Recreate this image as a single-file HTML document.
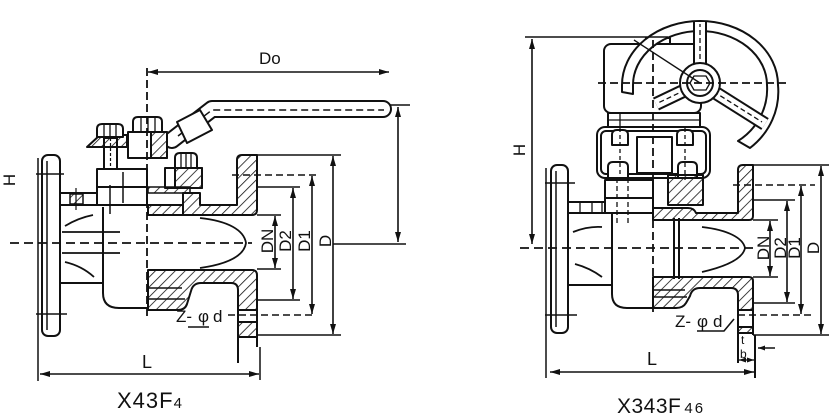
<!DOCTYPE html>
<html><head><meta charset="utf-8"><style>
html,body{margin:0;padding:0;background:#fff;}
svg{display:block;}
text{font-family:"Liberation Sans",sans-serif;fill:#111;}
</style></head><body>
<svg width="832" height="415" viewBox="0 0 832 415" xmlns="http://www.w3.org/2000/svg">
<defs>
<pattern id="h" width="7" height="7" patternUnits="userSpaceOnUse" patternTransform="rotate(45)"><line x1="0" y1="0" x2="0" y2="7" stroke="#111" stroke-width="1.6"/></pattern>
<marker id="a" viewBox="0 0 10 6" refX="10" refY="3" markerWidth="10" markerHeight="6" markerUnits="userSpaceOnUse" orient="auto-start-reverse"><path d="M0,0L10,3L0,6z" fill="#111"/></marker>
<marker id="s" viewBox="0 0 7 5" refX="7" refY="2.5" markerWidth="7" markerHeight="5" markerUnits="userSpaceOnUse" orient="auto-start-reverse"><path d="M0,0L7,2.5L0,5z" fill="#111"/></marker>
</defs>

<!-- ================= LEFT VALVE X43F4 ================= -->
<g stroke="#111" stroke-width="2" fill="none" stroke-linejoin="round">
  <rect x="42" y="155" width="18" height="181" rx="6" fill="#fff"/>
  <line x1="47" y1="161" x2="47" y2="330" stroke-width="1.5"/>
  <line x1="36" y1="174" x2="64" y2="174" stroke-width="1.5"/>
  <line x1="36" y1="314" x2="67" y2="314" stroke-width="1.5"/>
  <line x1="38" y1="158" x2="38" y2="381" stroke-width="1.5"/>

  <path d="M60,193H97M60,205H97"/>
  <rect x="70" y="194" width="13" height="10" fill="url(#h)" stroke-width="1.5"/>
  <line x1="76" y1="188" x2="76" y2="210" stroke-width="1.2"/>

  <path d="M103,207V293Q103,308 119,308H148"/>
  <path d="M60,283H103"/>
  <path d="M65,226Q78,218 93,215" stroke-width="1.8"/>
  <path d="M65,262Q82,266 94,277" stroke-width="1.8"/>
  <path d="M62,232H120M62,253H120" stroke-width="1.8"/>

  <path d="M172,140L212,109H383" stroke-width="18" stroke-linecap="round"/>
  <path d="M172,140L212,109H383" stroke="#fff" stroke-width="14" stroke-linecap="round"/>
  <path d="M178,136L212,110H384" stroke-dasharray="7 4" stroke-width="1.5"/>
  <path d="M177,122L200,110L212,130L187,143Z" fill="#fff"/>

  <rect x="97" y="169" width="50" height="18" fill="#fff"/>
  <rect x="97" y="187" width="50" height="18" fill="#fff"/>
  <path d="M110,185V214M123,172V203" stroke-width="1.5"/>

  <rect x="104" y="138" width="13" height="31" fill="#fff"/>
  <line x1="110.5" y1="138" x2="110.5" y2="169" stroke-dasharray="3 2" stroke-width="1.2"/>
  <path d="M87,147L100,135H127V147Z" fill="url(#h)"/>
  <path d="M97,137V129Q97,124 102,124H118Q123,124 123,129V137Z" fill="#fff"/>
  <path d="M104,125V137M110,125V137M116,125V137" stroke-width="1.3"/>

  <rect x="128" y="132" width="39" height="26" fill="#fff"/>
  <rect x="151" y="132" width="16" height="26" fill="url(#h)"/>
  <path d="M133,132V122Q133,117 138,117H157Q162,117 162,122V132Z" fill="#fff"/>
  <path d="M141,118V132M148,118V132M155,118V132" stroke-width="1.3"/>

  <rect x="165" y="168" width="37" height="20" fill="#fff"/>
  <rect x="175" y="168" width="27" height="20" fill="url(#h)"/>
  <path d="M175,168V158Q175,153 180,153H192Q197,153 197,158V168Z" fill="#fff"/>
  <path d="M181,154V168M186,154V168M191,154V168" stroke-width="1.3"/>
  <rect x="148" y="187" width="42" height="6" fill="url(#h)" stroke-width="1.5"/>

  <path d="M148,205H183V193H200V205H237V160Q237,155 242,155H257V210Q257,215 252,215H148Z" fill="url(#h)"/>
  <line x1="183" y1="193" x2="183" y2="215"/>

  <path d="M148,270H252Q257,270 257,275V310H238V290Q238,283 231,283H201Q193,283 191,291L187,304Q185,310 178,310H148Z" fill="url(#h)"/>
  <path d="M148,288H182M148,299H185" stroke-width="1.5"/>
  <rect x="238" y="322" width="19" height="15" fill="url(#h)"/>
  <path d="M238,310V363M257,310V347"/>
  <path d="M260,347V380" stroke-width="1.5"/>

  <path d="M200,218C228,221 244,230 246,243C244,256 228,264 200,268" stroke-width="1.8"/>

  <path d="M10,243H252" stroke-dasharray="9 5" stroke-width="1.8"/>
  <path d="M147,68V318" stroke-dasharray="8 4" stroke-width="1.8"/>
</g>

<g stroke="#111" stroke-width="1.6" fill="none">
  <path d="M148,72H389" marker-start="url(#a)" marker-end="url(#a)"/>
  <path d="M390,105H410"/>
  <path d="M398,107V242" marker-start="url(#a)" marker-end="url(#a)"/>
  <path d="M333,244H406"/>
  <path d="M257,155H341"/>
  <path d="M232,175H320" stroke-dasharray="7 4"/>
  <path d="M257,187H300"/>
  <path d="M257,215H281"/>
  <path d="M257,269H281"/>
  <path d="M257,300H300"/>
  <path d="M228,315H316" stroke-dasharray="7 4"/>
  <path d="M257,335H341"/>
  <path d="M275,216V268" marker-start="url(#a)" marker-end="url(#a)"/>
  <path d="M293,188V299" marker-start="url(#a)" marker-end="url(#a)"/>
  <path d="M312,176V314" marker-start="url(#a)" marker-end="url(#a)"/>
  <path d="M333,156V334" marker-start="url(#a)" marker-end="url(#a)"/>
  <path d="M40,374H259" marker-start="url(#a)" marker-end="url(#a)"/>
  <path d="M188,327H209"/>
</g>
<g font-size="17">
  <text x="259" y="64">Do</text>
  <text x="15" y="180" text-anchor="middle" transform="rotate(-90 15 180)">H</text>
  <text x="273" y="241" text-anchor="middle" transform="rotate(-90 273 241)">DN</text>
  <text x="291" y="241" text-anchor="middle" transform="rotate(-90 291 241)">D2</text>
  <text x="310" y="241" text-anchor="middle" transform="rotate(-90 310 241)">D1</text>
  <text x="331" y="241" text-anchor="middle" transform="rotate(-90 331 241)">D</text>
  <text y="322"><tspan x="176">Z-</tspan><tspan x="198">φ</tspan><tspan x="213">d</tspan></text>
  <text x="142" y="368" font-size="18">L</text>
</g>
<text x="117" y="408" font-size="22" letter-spacing="1">X43F<tspan font-size="15" letter-spacing="0">4</tspan></text>

<!-- ================= RIGHT VALVE X343F46 ================= -->
<g stroke="#111" stroke-width="2" fill="none" stroke-linejoin="round">
  <rect x="551" y="165" width="17" height="168" rx="6" fill="#fff"/>
  <line x1="556" y1="171" x2="556" y2="327" stroke-width="1.5"/>
  <line x1="545" y1="183" x2="575" y2="183" stroke-width="1.5"/>
  <line x1="545" y1="315" x2="577" y2="315" stroke-width="1.5"/>
  <line x1="546" y1="168" x2="546" y2="378" stroke-width="1.5"/>

  <path d="M568,202H607M568,213H607"/>
  <path d="M580,202V213M592,202V213M602,202V213" stroke-width="1.3"/>
  <path d="M612,214V294Q612,308 627,308H653"/>
  <path d="M568,285H612"/>
  <path d="M573,232Q588,226 602,227" stroke-width="1.8"/>
  <path d="M575,264Q590,268 602,277" stroke-width="1.8"/>

  <rect x="646" y="38" width="24" height="7" fill="#fff"/>
  <rect x="604" y="44" width="97" height="69" rx="7" fill="#fff"/>
  <rect x="608" y="113" width="92" height="14" fill="#fff"/>
  <path d="M608,120H700M620,113V127" stroke-width="1.3"/>

  <rect x="597" y="127" width="113" height="51" rx="8" fill="#fff"/>
  <rect x="601" y="131" width="105" height="43" rx="5"/>
  <rect x="637" y="137" width="35" height="36" fill="#fff"/>
  <path d="M612,145V135Q612,130 617,130H623Q628,130 628,135V145Z" fill="#fff"/>
  <path d="M677,145V135Q677,130 682,130H688Q693,130 693,135V145Z" fill="#fff"/>
  <path d="M608,178V167Q608,162 613,162H623Q628,162 628,167V178Z" fill="#fff"/>
  <path d="M678,178V167Q678,162 683,162H692Q697,162 697,167V178Z" fill="#fff"/>
  <path d="M620,128V180M685,128V180" stroke-dasharray="4 3" stroke-width="1.3"/>

  <rect x="605" y="180" width="48" height="18" fill="#fff"/>
  <rect x="605" y="198" width="48" height="15" fill="#fff"/>
  <path d="M617,178V224M628,178V224" stroke-dasharray="5 3" stroke-width="1.3"/>

  <rect x="668" y="175" width="35" height="30" fill="url(#h)"/>
  <path d="M653,208H688Q694,208 696,213H738V170Q738,165 743,165H753V216Q753,220 749,220H653Z" fill="url(#h)"/>
  <path d="M653,277H749Q753,277 753,281V310H738V295Q738,288 731,288H700Q692,288 690,296L686,303Q683,308 676,308H653Z" fill="url(#h)"/>
  <path d="M653,290H685M653,297H687" stroke-width="1.5"/>
  <rect x="738" y="327" width="15" height="6" fill="url(#h)"/>
  <path d="M738,310V363M753,310V335M755,335V378"/>

  <path d="M674,218V279M679,218V279"/>
  <path d="M702,227C728,230 743,238 745,248C743,258 728,266 702,272" stroke-width="1.8"/>

  <path d="M622,92L622,85A78,64 0 0 1 778,85A75,72 0 0 1 750,148L738,141A64,62 0 0 0 767,85A67,54 0 0 0 633,85L633,94Z" fill="#fff"/>
  <path d="M700,83V22" stroke-width="14"/>
  <path d="M700,83V22" stroke="#fff" stroke-width="10"/>
  <path d="M700,83L656,104" stroke-width="14"/>
  <path d="M700,83L656,104" stroke="#fff" stroke-width="10"/>
  <path d="M700,83L765,124" stroke-width="14"/>
  <path d="M700,83L765,124" stroke="#fff" stroke-width="10"/>
  <path d="M700,83V24M700,83L658,103M700,83L762,122" stroke-dasharray="5 3" stroke-width="1.3"/>
  <circle cx="700" cy="83" r="20" fill="#fff"/>
  <circle cx="700" cy="83" r="13"/>
  <path d="M694,76H706L710,83L706,90H694L690,83Z" stroke-width="1.3"/>
  <path d="M598,83H787" stroke-dasharray="8 4" stroke-width="1.8"/>
  <path d="M634,40L700,83" stroke-width="1.4"/>

  <path d="M520,248H757" stroke-dasharray="9 5" stroke-width="1.8"/>
  <path d="M653,40V312" stroke-dasharray="8 4" stroke-width="1.8"/>
</g>

<g stroke="#111" stroke-width="1.6" fill="none">
  <path d="M525,37H668"/>
  <path d="M532,39V244" marker-start="url(#a)" marker-end="url(#a)"/>
  <path d="M753,165H829"/>
  <path d="M733,185H815" stroke-dasharray="7 4"/>
  <path d="M753,200H795"/>
  <path d="M753,220H778"/>
  <path d="M753,277H778"/>
  <path d="M753,303H795"/>
  <path d="M738,315H815" stroke-dasharray="7 4"/>
  <path d="M753,335H829"/>
  <path d="M770,221V276" marker-start="url(#a)" marker-end="url(#a)"/>
  <path d="M787,201V302" marker-start="url(#a)" marker-end="url(#a)"/>
  <path d="M801,186V314" marker-start="url(#a)" marker-end="url(#a)"/>
  <path d="M821,166V334" marker-start="url(#a)" marker-end="url(#a)"/>
  <path d="M550,372H754" marker-start="url(#a)" marker-end="url(#a)"/>
  <path d="M697,331H724L734,319"/>
  <path d="M775,348H758" marker-end="url(#s)"/>
  <path d="M739,360H754" marker-start="url(#s)" marker-end="url(#s)" stroke-width="1.3"/>
</g>
<g font-size="17">
  <text x="525" y="150" text-anchor="middle" transform="rotate(-90 525 150)">H</text>
  <text x="769" y="248" text-anchor="middle" transform="rotate(-90 769 248)">DN</text>
  <text x="786" y="248" text-anchor="middle" transform="rotate(-90 786 248)">D2</text>
  <text x="800" y="248" text-anchor="middle" transform="rotate(-90 800 248)">D1</text>
  <text x="819" y="248" text-anchor="middle" transform="rotate(-90 819 248)">D</text>
  <text y="327"><tspan x="675">Z-</tspan><tspan x="697">φ</tspan><tspan x="713">d</tspan></text>
  <text x="647" y="365" font-size="18">L</text>
  <text x="741" y="344" font-size="12">t</text>
  <text x="740" y="358" font-size="12">b</text>
</g>
<text x="617" y="413" font-size="21" letter-spacing="0.5">X343F<tspan font-size="15" dx="3" letter-spacing="2">46</tspan></text>
</svg>
</body></html>
